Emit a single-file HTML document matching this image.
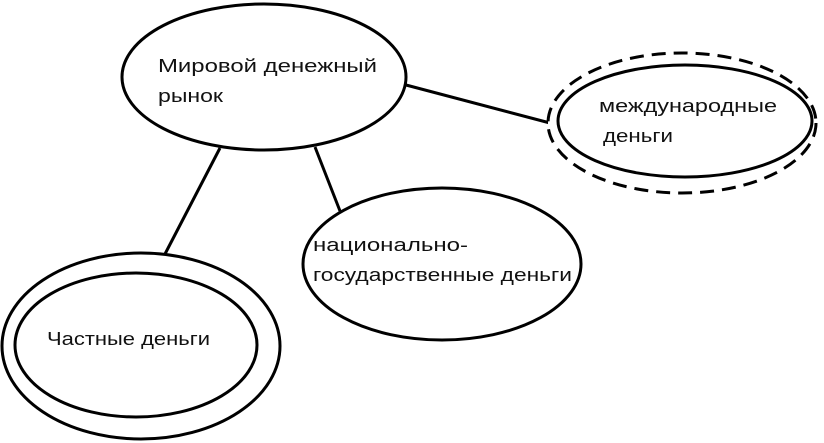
<!DOCTYPE html>
<html><head><meta charset="utf-8"><style>html,body{margin:0;padding:0;background:#fff}svg{display:block}</style></head>
<body>
<svg width="824" height="443" viewBox="0 0 824 443" xmlns="http://www.w3.org/2000/svg">
<g fill="none" stroke="#000" stroke-width="3">
<line x1="220" y1="148" x2="165" y2="254"/>
<line x1="315" y1="147" x2="340" y2="211"/>
<line x1="406" y1="85" x2="550" y2="123"/>
<ellipse cx="264" cy="77" rx="142" ry="73" fill="#fff"/>
<ellipse cx="442" cy="264" rx="139" ry="76" fill="#fff"/>
<ellipse cx="141" cy="346" rx="139" ry="93" fill="#fff"/>
<ellipse cx="136" cy="345" rx="121" ry="72"/>
<ellipse cx="682" cy="123" rx="134" ry="70" fill="#fff" stroke-dasharray="14,8"/>
<ellipse cx="685" cy="121" rx="127" ry="56"/>
</g>
<g font-family="'Liberation Sans','Noto Sans CJK SC',sans-serif" font-size="18" fill="#111">
<text x="158" y="72" textLength="219" lengthAdjust="spacingAndGlyphs">Мировой денежный</text>
<text x="158" y="102" textLength="65" lengthAdjust="spacingAndGlyphs">рынок</text>
<text x="313" y="251" textLength="155" lengthAdjust="spacingAndGlyphs">национально-</text>
<text x="313" y="281" textLength="259" lengthAdjust="spacingAndGlyphs">государственные деньги</text>
<text x="47" y="345" textLength="163" lengthAdjust="spacingAndGlyphs">Частные деньги</text>
<text x="599" y="112" textLength="178" lengthAdjust="spacingAndGlyphs">международные</text>
<text x="603" y="142" textLength="70" lengthAdjust="spacingAndGlyphs">деньги</text>
</g>
</svg>
</body></html>
